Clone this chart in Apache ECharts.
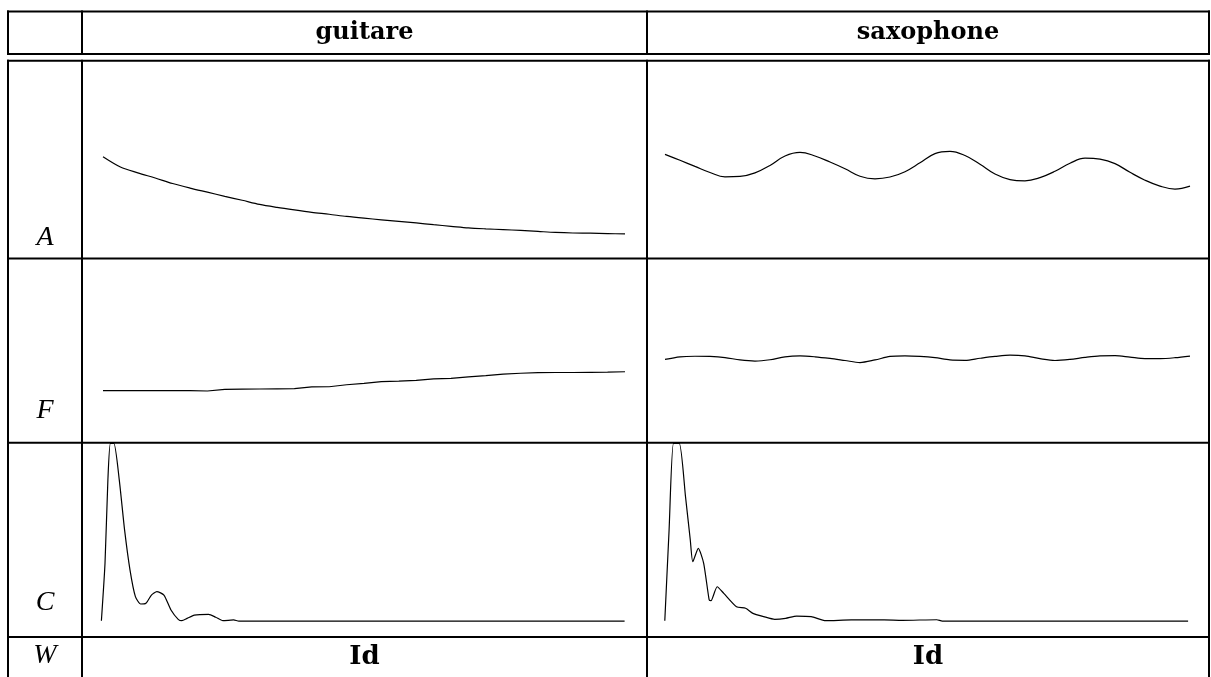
<!DOCTYPE html>
<html>
<head>
<meta charset="utf-8">
<script src="https://cdn.jsdelivr.net/npm/echarts@6/dist/echarts.min.js"></script>
<style>
html,body{margin:0;padding:0;background:#fff;}
#c{width:1211px;height:677px;}
</style>
</head>
<body>
<div id="c"></div>
<script>
// ---- Data (arbitrary units 0..100 per cell) ----
const instruments = ['guitare', 'saxophone'];
const rowLabels = ['A', 'F', 'C', 'W'];
const footerLabel = 'Id';

// Amplitude envelopes (row A), evenly spaced samples
const guitareA = [51.4,46.2,43.2,40.6,37.8,35.5,33.4,31.3,29.3,27.2,25.7,24.4,23.2,22.2,21.1,20.2,19.4,18.6,17.8,16.9,16.1,15.3,14.8,14.4,14.0,13.5,13.0,12.7,12.6,12.4,12.2];
const saxophoneA = [52.6,49.6,46.5,43.4,41.2,41.4,43.2,47.0,51.8,53.6,51.8,48.7,45.3,41.5,40.2,41.1,43.8,48.3,53.0,54.1,52.0,47.6,42.6,39.8,39.2,40.8,44.0,48.1,50.7,50.2,47.9,43.5,39.5,36.5,35.0,36.5];

// Frequency curves (row F), evenly spaced samples
const guitareF = [28.3,28.3,28.3,28.3,28.3,28.3,28.1,29.0,29.1,29.2,29.3,29.4,30.3,30.4,31.5,32.2,33.2,33.4,33.8,34.7,34.9,35.7,36.4,37.2,37.7,38.0,38.1,38.1,38.2,38.3,38.5];
const saxophoneF = [45.2,46.6,46.9,46.8,46.2,44.9,44.3,45.0,46.6,47.1,46.6,45.7,44.6,43.5,44.9,46.8,47.1,46.8,46.1,44.9,44.7,45.8,46.8,47.5,47.1,45.6,44.6,45.2,46.3,47.1,47.2,46.4,45.6,45.6,46.1,47.0];

// Spectral curves (row C): positions and magnitudes
const guitareCx = [0,0.69,1.24,1.72,2.39,3.42,4.43,5.47,6.5,7.51,8.52,9.56,10.59,11.95,13.3,14.68,15.37,16.38,17.76,20.49,21.85,23.22,25.27,26.28,100];
const guitareCy = [8.4,38.0,80.9,99.8,99.8,80.9,55.2,34.5,20.8,17.0,17.4,21.6,23.4,21.6,13.9,9.1,8.4,9.6,11.3,11.7,10.2,8.4,8.8,8.2,8.2];
const saxophoneCx = [0,0.82,1.66,2.77,3.96,4.87,5.35,6.4,7.43,8.48,8.83,10.01,11.27,13.7,15.44,16.84,18.92,21.0,23.1,25.19,27.98,30.75,35.62,41.89,45.37,51.98,53.03,100];
const saxophoneCy = [8.4,55.2,99.8,99.8,72.3,50.0,38.8,45.7,38.0,19.1,18.7,25.9,22.5,15.6,14.8,12.2,10.5,9.1,9.6,10.8,10.5,8.4,8.8,8.8,8.6,8.9,8.2,8.2];

// ---- Layout ----
const W = 1211, H = 677;
const colX = [8, 82, 647, 1209];          // vertical table lines
const rowY = [11.5, 54, 60.7, 258.5, 442.8, 637]; // horizontal table lines
const curveSpan = [[103, 625], [665, 1190]];
const cSpan = [[101.4, 624.6], [664.8, 1188.1]];
const cells = { A: [61, 258], F: [258, 443], C: [443, 637] };

const lineStyle = { color: '#000', width: 1.2 };

const grids = [], xAxes = [], yAxes = [], series = [];
function addPanel(left, right, top, bottom, xType, xData, yData, smooth) {
  const i = grids.length;
  grids.push({ left: left, right: W - right, top: top, bottom: H - bottom, containLabel: false, show: false });
  if (xType === 'category') {
    xAxes.push({ gridIndex: i, type: 'category', boundaryGap: false, data: yData.map((_, k) => k), show: false });
  } else {
    xAxes.push({ gridIndex: i, type: 'value', min: 0, max: 100, show: false });
  }
  yAxes.push({ gridIndex: i, type: 'value', min: 0, max: 100, show: false });
  series.push({
    type: 'line', xAxisIndex: i, yAxisIndex: i, silent: true, animation: false,
    showSymbol: false, symbol: 'none', smooth: smooth, lineStyle: lineStyle,
    data: xType === 'category' ? yData : yData.map((v, k) => [xData[k], v])
  });
}
addPanel(curveSpan[0][0], curveSpan[0][1], cells.A[0], cells.A[1], 'category', null, guitareA, 0.3);
addPanel(curveSpan[1][0], curveSpan[1][1], cells.A[0], cells.A[1], 'category', null, saxophoneA, 0.4);
addPanel(curveSpan[0][0], curveSpan[0][1], cells.F[0], cells.F[1], 'category', null, guitareF, false);
addPanel(curveSpan[1][0], curveSpan[1][1], cells.F[0], cells.F[1], 'category', null, saxophoneF, 0.3);
addPanel(cSpan[0][0], cSpan[0][1], cells.C[0], cells.C[1], 'value', guitareCx, guitareCy, 0.2);
addPanel(cSpan[1][0], cSpan[1][1], cells.C[0], cells.C[1], 'value', saxophoneCx, saxophoneCy, 0.2);

// ---- Table lines and text ----
const graphic = [];
const stroke = { stroke: '#000', lineWidth: 2 };
rowY.forEach(y => {
  graphic.push({ type: 'line', shape: { x1: colX[0] - 1, y1: y, x2: colX[3] + 1, y2: y }, style: stroke, silent: true });
});
colX.forEach(x => {
  graphic.push({ type: 'line', shape: { x1: x, y1: rowY[0] - 1, x2: x, y2: rowY[1] + 1 }, style: stroke, silent: true });
  graphic.push({ type: 'line', shape: { x1: x, y1: rowY[2] - 1, x2: x, y2: H }, style: stroke, silent: true });
});
const headFont = 'bold 24px "DejaVu Serif"';
instruments.forEach((name, k) => {
  const cx = (colX[k + 1] + colX[k + 2]) / 2;
  graphic.push({ type: 'text', silent: true, style: { text: name, x: cx, y: 33, font: headFont, fill: '#000', textAlign: 'center', textVerticalAlign: 'middle' } });
  graphic.push({ type: 'text', silent: true, style: { text: footerLabel, x: cx, y: 657, font: 'bold 26px "DejaVu Serif"', fill: '#000', textAlign: 'center', textVerticalAlign: 'middle' } });
});
const labelY = [238, 411, 603, 656];
rowLabels.forEach((lab, k) => {
  graphic.push({ type: 'text', silent: true, style: { text: lab, x: 45, y: labelY[k], font: 'italic 28px "Liberation Serif"', fill: '#000', textAlign: 'center', textVerticalAlign: 'middle' } });
});

const chart = echarts.init(document.getElementById('c'), null, { renderer: 'canvas' });
chart.setOption({
  animation: false,
  backgroundColor: '#fff',
  grid: grids, xAxis: xAxes, yAxis: yAxes, series: series,
  graphic: graphic
});
</script>
</body>
</html>
